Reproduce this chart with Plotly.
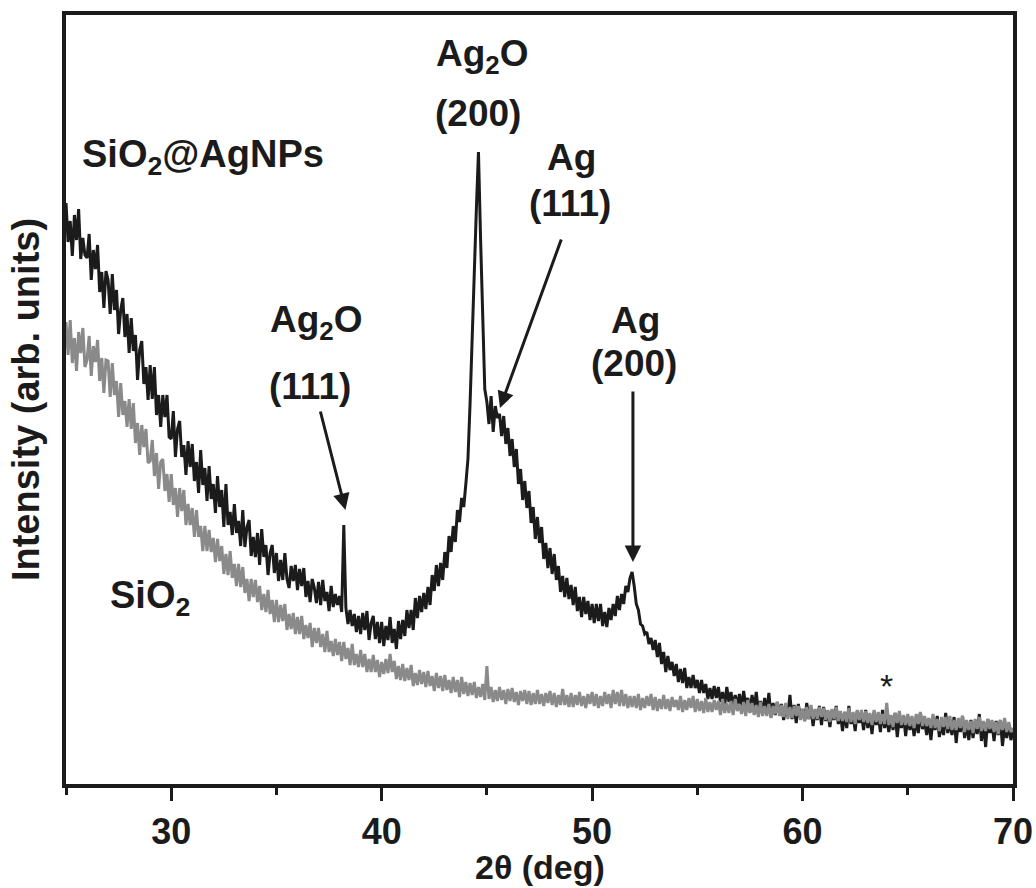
import numpy as np
import plotly.graph_objects as go

# 2-theta sampling: 25.0 .. 70.0 deg in 0.1 deg steps
TWO_THETA_START = 25.0
TWO_THETA_STEP = 0.1

# SiO2@AgNPs (black) intensity, arb. units, one row per degree (x.0 .. x.9)
sio2_agnps = [
    581, 542, 563, 528, 569, 544, 575, 525, 546, 529,  # 25
    526, 550, 504, 534, 515, 539, 492, 512, 476, 513,  # 26
    504, 470, 510, 474, 494, 450, 474, 486, 447, 470,  # 27
    431, 466, 433, 449, 404, 434, 443, 400, 417, 384,  # 28
    419, 385, 417, 369, 389, 357, 389, 367, 389, 347,  # 29
    345, 373, 327, 355, 363, 327, 339, 309, 343, 317,  # 30
    340, 303, 322, 291, 334, 299, 316, 283, 318, 285,  # 31
    300, 271, 308, 277, 294, 257, 300, 259, 272, 249,  # 32
    280, 251, 263, 238, 274, 237, 257, 264, 228, 247,  # 33
    227, 251, 219, 255, 227, 239, 209, 231, 239, 211,  # 34
    231, 203, 224, 204, 231, 205, 196, 218, 203, 219,  # 35
    194, 215, 198, 216, 187, 203, 182, 205, 196, 181,  # 36
    202, 179, 204, 183, 192, 173, 198, 177, 190, 179,  # 37
    188, 172, 259, 176, 160, 174, 158, 170, 152, 168,  # 38
    150, 171, 154, 173, 144, 161, 168, 145, 162, 141,  # 39
    162, 138, 158, 144, 167, 141, 155, 135, 163, 145,  # 40
    164, 148, 174, 156, 174, 154, 186, 166, 188, 172,  # 41
    191, 175, 197, 179, 209, 193, 219, 198, 221, 204,  # 42
    232, 216, 248, 232, 258, 242, 274, 262, 286, 277,  # 43
    300, 325, 380, 455, 510, 575, 632, 545, 470, 395,  # 44
    382, 360, 388, 352, 378, 366, 370, 348, 368, 340,  # 45
    356, 328, 345, 317, 335, 300, 315, 284, 303, 276,  # 46
    293, 261, 277, 245, 267, 241, 257, 225, 241, 216,  # 47
    236, 210, 230, 204, 218, 192, 208, 187, 206, 185,  # 48
    199, 179, 197, 173, 187, 167, 187, 170, 183, 164,  # 49
    180, 161, 180, 163, 180, 158, 172, 157, 176, 164,  # 50
    180, 168, 188, 174, 190, 180, 198, 192, 206, 212,  # 51
    198, 180, 174, 160, 158, 150, 152, 140, 146, 134,  # 52
    144, 127, 141, 120, 132, 112, 128, 114, 122, 108,  # 53
    120, 102, 115, 101, 116, 96, 107, 96, 109, 96,     # 54
    104, 91, 104, 91, 100, 85, 96, 85, 98, 86,         # 55
    97, 82, 92, 79, 97, 82, 92, 77, 89, 78,            # 56
    90, 76, 93, 79, 86, 72, 89, 75, 92, 72,            # 57
    83, 71, 86, 72, 91, 67, 81, 69, 82, 71,            # 58
    80, 64, 78, 68, 89, 65, 79, 61, 80, 66,            # 59
    75, 63, 81, 65, 76, 58, 74, 64, 78, 59,            # 60
    77, 63, 73, 57, 74, 64, 78, 60, 71, 53,            # 61
    72, 56, 78, 60, 69, 53, 73, 61, 70, 54,            # 62
    74, 56, 68, 50, 72, 59, 69, 52, 74, 56,            # 63
    66, 52, 68, 54, 71, 47, 67, 56, 68, 48,            # 64
    68, 54, 64, 48, 66, 51, 71, 55, 63, 49,            # 65
    64, 44, 66, 54, 68, 47, 61, 49, 71, 51,            # 66
    61, 49, 67, 41, 63, 52, 68, 46, 60, 44,            # 67
    64, 46, 60, 50, 70, 43, 61, 37, 65, 51,            # 68
    61, 43, 63, 49, 64, 38, 58, 46, 60, 44,            # 69
    52,                                                # 70
]

# SiO2 (grey) intensity, arb. units
sio2 = [
    462, 429, 464, 421, 446, 413, 452, 431, 456, 417,  # 25
    424, 448, 408, 438, 422, 444, 403, 426, 391, 424,  # 26
    423, 387, 421, 389, 403, 367, 401, 369, 383, 357,  # 27
    385, 355, 381, 341, 361, 329, 359, 337, 355, 321,  # 28
    323, 344, 308, 331, 295, 322, 325, 293, 310, 282,  # 29
    310, 279, 296, 267, 296, 273, 294, 259, 280, 259,  # 30
    276, 247, 274, 247, 258, 233, 258, 233, 254, 232,  # 31
    246, 222, 245, 223, 238, 210, 230, 209, 233, 206,  # 32
    220, 198, 220, 197, 217, 191, 205, 183, 205, 187,  # 33
    204, 182, 198, 174, 190, 172, 194, 170, 184, 162,  # 34
    184, 162, 179, 163, 180, 154, 170, 155, 171, 150,  # 35
    167, 150, 168, 145, 159, 146, 161, 137, 156, 141,  # 36
    156, 137, 150, 132, 153, 132, 143, 128, 145, 129,  # 37
    142, 123, 142, 125, 136, 119, 140, 119, 130, 117,  # 38
    134, 117, 130, 112, 125, 112, 129, 112, 124, 107,  # 39
    122, 110, 125, 111, 130, 112, 123, 105, 118, 104,  # 40
    120, 103, 116, 104, 119, 98, 111, 99, 114, 100,    # 41
    112, 97, 113, 98, 108, 93, 111, 96, 108, 93,       # 42
    109, 94, 104, 91, 107, 92, 104, 87, 107, 90,       # 43
    102, 88, 101, 89, 102, 86, 97, 87, 100, 84,        # 44
    118, 85, 97, 82, 94, 83, 97, 84, 94, 80,           # 45
    95, 83, 96, 82, 92, 79, 93, 83, 94, 80,            # 46
    93, 79, 91, 80, 94, 80, 90, 78, 91, 81,            # 47
    93, 79, 91, 77, 89, 79, 95, 79, 89, 77,            # 48
    91, 77, 89, 79, 92, 78, 88, 76, 90, 80,            # 49
    92, 78, 90, 76, 88, 78, 92, 80, 90, 76,            # 50
    94, 80, 92, 78, 94, 78, 90, 76, 88, 77,            # 51
    88, 76, 90, 74, 86, 76, 88, 78, 90, 74,            # 52
    87, 73, 85, 75, 89, 75, 85, 73, 87, 77,            # 53
    84, 74, 88, 72, 84, 74, 86, 76, 88, 72,            # 54
    85, 73, 83, 71, 86, 72, 82, 72, 84, 74,            # 55
    83, 69, 85, 71, 81, 71, 83, 69, 85, 73,            # 56
    80, 70, 82, 68, 84, 71, 81, 69, 79, 67,            # 57
    82, 68, 78, 68, 80, 66, 78, 70, 82, 68,            # 58
    79, 67, 81, 65, 77, 66, 78, 68, 78, 64,            # 59
    75, 63, 77, 65, 79, 65, 75, 65, 77, 67,            # 60
    76, 64, 74, 62, 75, 65, 77, 63, 73, 63,            # 61
    72, 62, 76, 62, 72, 60, 74, 64, 74, 62,            # 62
    73, 61, 71, 59, 74, 62, 72, 60, 70, 60,            # 63
    81, 59, 69, 57, 71, 61, 73, 59, 69, 59,            # 64
    70, 58, 68, 56, 70, 60, 72, 58, 68, 58,            # 65
    66, 56, 70, 56, 65, 53, 67, 57, 67, 55,            # 66
    68, 54, 64, 54, 66, 56, 68, 52, 64, 54,            # 67
    63, 51, 65, 55, 67, 53, 63, 53, 65, 55,            # 68
    64, 52, 62, 50, 64, 54, 66, 52, 62, 52,            # 69
    56,                                                # 70
]

x_ticks = [30, 40, 50, 60, 70]
x_minor_ticks = [25, 35, 45, 55, 65]

# peak labels: (text, 2theta, intensity)
peak_labels = [
    ("Ag<sub>2</sub>O", 44.80, 728), ("(200)", 44.60, 671),
    ("Ag", 49.00, 627), ("(111)", 48.95, 581),
    ("Ag<sub>2</sub>O", 36.92, 462), ("(111)", 36.59, 398),
    ("Ag", 52.08, 464), ("(200)", 51.98, 421),
]
# arrows: (tail 2theta, tail I, head 2theta, head I)
peak_arrows = [
    (37.07, 374, 38.28, 274),
    (48.56, 546, 45.62, 376),
    (51.94, 394, 51.94, 222),
]

INK = "#1b1b1b"
GREY = "#8a8a8a"
FONT = "Liberation Sans, Arial, Helvetica, sans-serif"


def angles(n):
    return np.round(TWO_THETA_START + TWO_THETA_STEP * np.arange(n), 2)


fig = go.Figure()
fig.add_trace(go.Scatter(x=angles(len(sio2_agnps)), y=sio2_agnps, mode="lines",
                         line=dict(color=INK, width=3.0), name="SiO2@AgNPs"))
fig.add_trace(go.Scatter(x=angles(len(sio2)), y=sio2, mode="lines",
                         line=dict(color=GREY, width=3.0), name="SiO2"))

ann = []
for text, xx, yy in peak_labels:
    ann.append(dict(x=xx, y=yy, xref="x", yref="y", text=text, showarrow=False,
                    xanchor="center", yanchor="middle",
                    font=dict(size=37, color=INK, family=FONT, weight="bold")))
for tx, ty, hx, hy in peak_arrows:
    ann.append(dict(x=hx, y=hy, ax=tx, ay=ty, xref="x", yref="y", axref="x", ayref="y",
                    text="", showarrow=True, arrowhead=2, arrowsize=1.1, arrowwidth=3,
                    arrowcolor=INK, standoff=0, startstandoff=0))
ann.append(dict(x=25.67, y=627, xref="x", yref="y", text="SiO<sub>2</sub>@AgNPs",
                showarrow=False, xanchor="left", yanchor="middle",
                font=dict(size=38, color=INK, family=FONT, weight="bold")))
ann.append(dict(x=27.0, y=186, xref="x", yref="y", text="SiO<sub>2</sub>",
                showarrow=False, xanchor="left", yanchor="middle",
                font=dict(size=38, color=INK, family=FONT, weight="bold")))
ann.append(dict(x=64.0, y=98, xref="x", yref="y", text="*", showarrow=False,
                xanchor="center", yanchor="middle",
                font=dict(size=34, color=INK, family=FONT)))
# x-axis title
ann.append(dict(x=0.5, y=-0.1085, xref="paper", yref="paper", text="2θ (deg)",
                showarrow=False, xanchor="center", yanchor="middle",
                font=dict(size=34, color=INK, family=FONT, weight="bold")))

fig.update_layout(
    width=1036, height=888,
    margin=dict(l=66, r=23, t=15, b=104),
    plot_bgcolor="white", paper_bgcolor="white",
    showlegend=False,
    font=dict(family=FONT, color=INK),
    annotations=ann,
    xaxis=dict(
        range=[25, 70], showgrid=False, zeroline=False, automargin=False,
        showline=True, linewidth=4, linecolor=INK, mirror=True,
        ticks="outside", ticklen=13, tickwidth=3, tickcolor=INK,
        tickvals=x_ticks, ticktext=[str(t) for t in x_ticks],
        tickfont=dict(size=36, family=FONT, color=INK, weight="bold"),
        minor=dict(ticks="outside", ticklen=7, tickwidth=3, tickcolor=INK,
                   tickvals=x_minor_ticks, showgrid=False),
    ),
    yaxis=dict(
        range=[0, 769], showgrid=False, zeroline=False, automargin=False,
        showline=True, linewidth=4, linecolor=INK, mirror=True,
        ticks="", showticklabels=False,
        title=dict(text="Intensity (arb. units)", standoff=12,
                   font=dict(size=38, family=FONT, color=INK, weight="bold")),
    ),
)

fig.write_html("out.html")
